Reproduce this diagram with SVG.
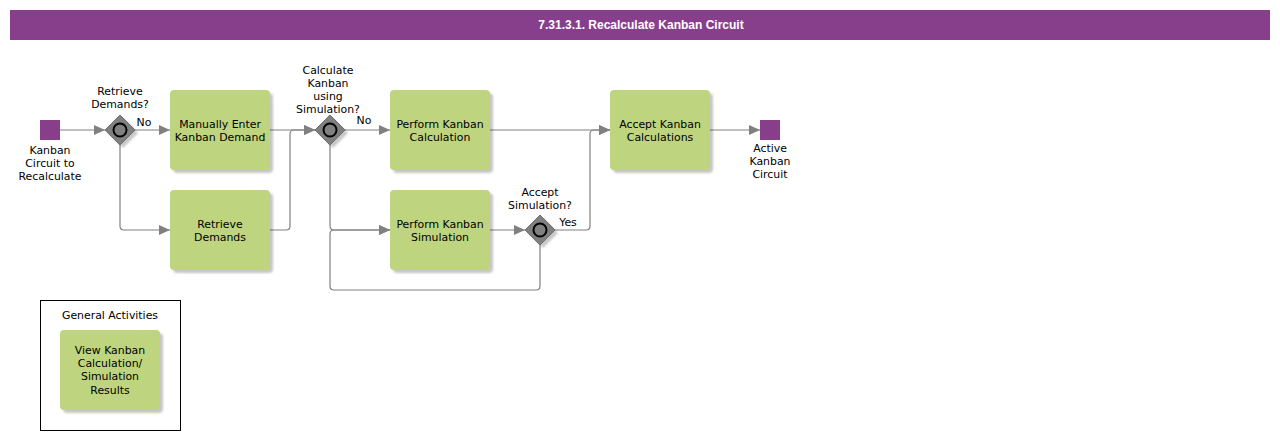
<svg xmlns="http://www.w3.org/2000/svg" width="1280" height="440" viewBox="0 0 1280 440">
<defs>
<style>
.t{font-family:"DejaVu Sans",Verdana,sans-serif;font-size:10.9px;fill:#000;text-anchor:middle}
.task{fill:#bed47e}
.sh{fill:#000;opacity:0.22}
.ev{fill:#873f8b}
.gw{fill:#808080;stroke:#6e6e6e;stroke-width:1}
.gc{fill:none;stroke:#000;stroke-width:2}
.c{fill:none;stroke:#808080;stroke-width:1.2}
</style>
<marker id="ah" markerWidth="12" markerHeight="10" refX="11" refY="5" orient="auto" markerUnits="userSpaceOnUse">
<path d="M0,0 L11,5 L0,10 Z" fill="#808080"/>
</marker>
<filter id="blur" x="-10%" y="-10%" width="130%" height="130%"><feGaussianBlur stdDeviation="1.2"/></filter>
</defs>
<rect width="1280" height="440" fill="#fff"/>
<g id="header">
<rect x="10" y="10" width="1260" height="30" fill="#873f8b"/>
<text x="641" y="29" style="font-family:'Liberation Sans',Arial,sans-serif;font-size:12px;font-weight:bold;fill:#fff;text-anchor:middle">7.31.3.1. Recalculate Kanban Circuit</text>
</g>
<g id="connectors">
<path class="c" d="M60,130 H105" marker-end="url(#ah)"/>
<path class="c" d="M135,130 H170" marker-end="url(#ah)"/>
<path class="c" d="M120,145 V226 Q120,230 124,230 H170" marker-end="url(#ah)"/>
<path class="c" d="M270,130 H315" marker-end="url(#ah)"/>
<path class="c" d="M270,230 H286 Q290,230 290,226 V134 Q290,130 294,130 H315" marker-end="url(#ah)"/>
<path class="c" d="M345,130 H390" marker-end="url(#ah)"/>
<path class="c" d="M330,145 V226 Q330,230 334,230 H390" marker-end="url(#ah)"/>
<path class="c" d="M540,245 V286 Q540,290 536,290 H334 Q330,290 330,286 V234 Q330,230 334,230 H390" marker-end="url(#ah)"/>
<path class="c" d="M490,230 H525" marker-end="url(#ah)"/>
<path class="c" d="M555,230 H586 Q590,230 590,226 V134 Q590,130 594,130 H610" marker-end="url(#ah)"/>
<path class="c" d="M490,130 H610" marker-end="url(#ah)"/>
<path class="c" d="M710,130 H760" marker-end="url(#ah)"/>
<text class="t" x="144" y="126">No</text>
<text class="t" x="364" y="124">No</text>
<text class="t" x="568" y="226">Yes</text>
</g>
<g id="start">
<rect class="ev" x="40" y="120" width="20" height="20"/>
<text class="t" x="50" y="154">Kanban</text>
<text class="t" x="50" y="167">Circuit to</text>
<text class="t" x="50" y="180">Recalculate</text>
</g>
<g id="gw1">
<path d="M123,118 L138,133 L123,148 L108,133 Z" class="sh" filter="url(#blur)"/>
<path class="gw" d="M120,115 L135,130 L120,145 L105,130 Z"/>
<circle class="gc" cx="120" cy="130" r="6.5"/>
<text class="t" x="120" y="95">Retrieve</text>
<text class="t" x="120" y="108">Demands?</text>
</g>
<g id="manual">
<rect class="sh" x="173" y="93" width="100" height="80" rx="4" filter="url(#blur)"/>
<rect class="task" x="170" y="90" width="100" height="80" rx="4"/>
<text class="t" x="220" y="128">Manually Enter</text>
<text class="t" x="220" y="141">Kanban Demand</text>
</g>
<g id="retrieve">
<rect class="sh" x="173" y="193" width="100" height="80" rx="4" filter="url(#blur)"/>
<rect class="task" x="170" y="190" width="100" height="80" rx="4"/>
<text class="t" x="220" y="228">Retrieve</text>
<text class="t" x="220" y="241">Demands</text>
</g>
<g id="gw2">
<path d="M333,118 L348,133 L333,148 L318,133 Z" class="sh" filter="url(#blur)"/>
<path class="gw" d="M330,115 L345,130 L330,145 L315,130 Z"/>
<circle class="gc" cx="330" cy="130" r="6.5"/>
<text class="t" x="328" y="74">Calculate</text>
<text class="t" x="328" y="87">Kanban</text>
<text class="t" x="328" y="100">using</text>
<text class="t" x="328" y="113">Simulation?</text>
</g>
<g id="calc">
<rect class="sh" x="393" y="93" width="100" height="80" rx="4" filter="url(#blur)"/>
<rect class="task" x="390" y="90" width="100" height="80" rx="4"/>
<text class="t" x="440" y="128">Perform Kanban</text>
<text class="t" x="440" y="141">Calculation</text>
</g>
<g id="sim">
<rect class="sh" x="393" y="193" width="100" height="80" rx="4" filter="url(#blur)"/>
<rect class="task" x="390" y="190" width="100" height="80" rx="4"/>
<text class="t" x="440" y="228">Perform Kanban</text>
<text class="t" x="440" y="241">Simulation</text>
</g>
<g id="gw3">
<path d="M543,218 L558,233 L543,248 L528,233 Z" class="sh" filter="url(#blur)"/>
<path class="gw" d="M540,215 L555,230 L540,245 L525,230 Z"/>
<circle class="gc" cx="540" cy="230" r="6.5"/>
<text class="t" x="540" y="196">Accept</text>
<text class="t" x="540" y="209">Simulation?</text>
</g>
<g id="accept">
<rect class="sh" x="613" y="93" width="100" height="80" rx="4" filter="url(#blur)"/>
<rect class="task" x="610" y="90" width="100" height="80" rx="4"/>
<text class="t" x="660" y="128">Accept Kanban</text>
<text class="t" x="660" y="141">Calculations</text>
</g>
<g id="end">
<rect class="ev" x="760" y="120" width="20" height="20"/>
<text class="t" x="770" y="152">Active</text>
<text class="t" x="770" y="165">Kanban</text>
<text class="t" x="770" y="178">Circuit</text>
</g>
<g id="general">
<rect x="40.5" y="300.5" width="140" height="130" fill="none" stroke="#000" stroke-width="1"/>
<text class="t" x="110" y="319">General Activities</text>
<rect class="sh" x="63" y="333" width="100" height="80" rx="4" filter="url(#blur)"/>
<rect class="task" x="60" y="330" width="100" height="80" rx="4"/>
<text class="t" x="110" y="354">View Kanban</text>
<text class="t" x="110" y="367">Calculation/</text>
<text class="t" x="110" y="380">Simulation</text>
<text class="t" x="110" y="394">Results</text>
</g>
</svg>
